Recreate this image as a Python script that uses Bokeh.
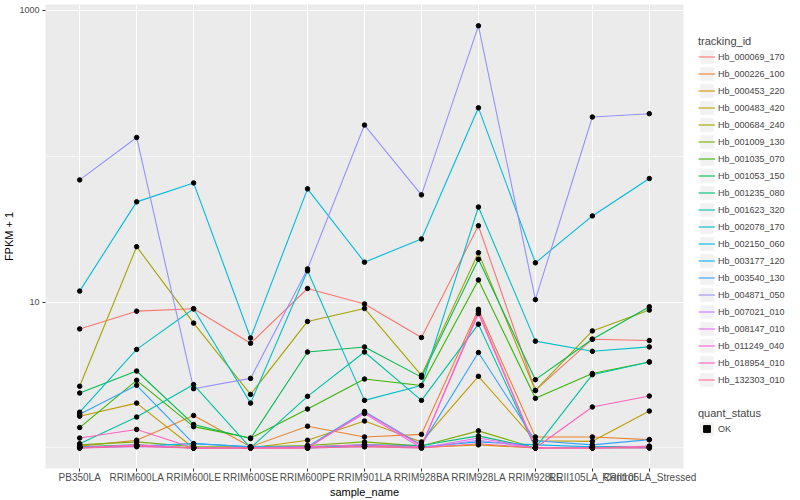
from bokeh.plotting import figure
from bokeh.layouts import row
from bokeh.models import FactorRange, FixedTicker, Legend, LegendItem, Range1d
from bokeh.embed import file_html
from bokeh.resources import INLINE

samples = ["PB350LA", "RRIM600LA", "RRIM600LE", "RRIM600SE", "RRIM600PE", "RRIM901LA",
           "RRIM928BA", "RRIM928LA", "RRIM928LE", "RRII105LA_Control", "RRII105LA_Stressed"]

tracking_ids = ["Hb_000069_170", "Hb_000226_100", "Hb_000453_220", "Hb_000483_420",
                "Hb_000684_240", "Hb_001009_130", "Hb_001035_070", "Hb_001053_150",
                "Hb_001235_080", "Hb_001623_320", "Hb_002078_170", "Hb_002150_060",
                "Hb_003177_120", "Hb_003540_130", "Hb_004871_050", "Hb_007021_010",
                "Hb_008147_010", "Hb_011249_040", "Hb_018954_010", "Hb_132303_010"]

colors = ["#F8766D", "#EA8331", "#D89000", "#C09B00", "#A3A500", "#7CAE00", "#39B600",
          "#00BB4E", "#00BF7D", "#00C1A3", "#00BFC4", "#00BAE0", "#00B0F6", "#35A2FF",
          "#9590FF", "#C77CFF", "#E76BF3", "#FA62DB", "#FF62BC", "#FF6C91"]

quant_status = ["OK"]

# FPKM values per gene, in sample order
hb_000069_170 = [5.55, 7.67, 8.0, 4.23, 11.4, 8.72, 4.72, 32.4, 1.48, 4.57, 4.45]
hb_000226_100 = [0.03, 0.13, 0.67, 0.02, 0.41, 0.19, 0.24, 7.93, 0.19, 0.19, 0.14]
hb_000453_220 = [0.02, 0.04, 0.0, 0.0, 0.02, 0.03, 0.01, 0.05, 0.0, 0.0, 0.0]
hb_000483_420 = [0.65, 1.03, 0.0, 0.0, 0.13, 0.53, 0.10, 2.10, 0.12, 0.11, 0.79]
hb_000684_240 = [1.65, 23.0, 6.18, 1.33, 6.37, 8.05, 2.15, 20.8, 1.48, 5.35, 7.82]
hb_001009_130 = [0.05, 0.10, 0.02, 0.02, 0.04, 0.10, 0.03, 0.31, 0.0, 0.02, 0.02]
hb_001035_070 = [0.38, 1.91, 0.40, 0.17, 0.85, 1.97, 1.68, 13.2, 1.19, 2.24, 2.89]
hb_001053_150 = [1.38, 2.37, 0.45, 0.16, 3.55, 3.93, 2.06, 18.7, 1.94, 4.57, 8.3]
hb_001235_080 = [0.02, 0.05, 0.0, 0.0, 0.02, 0.05, 0.04, 0.21, 0.0, 0.01, 0.01]
hb_001623_320 = [0.07, 0.63, 1.72, 0.0, 1.26, 3.55, 1.12, 6.06, 0.0, 2.18, 2.89]
hb_002078_170 = [0.76, 3.74, 8.0, 1.03, 15.4, 1.12, 1.68, 43.9, 4.4, 3.6, 3.93]
hb_002150_060 = [10.9, 47.7, 64.7, 4.68, 58.8, 17.8, 26.1, 214.0, 17.6, 38.0, 69.4]
hb_003177_120 = [0.01, 0.03, 0.07, 0.02, 0.0, 0.05, 0.02, 0.10, 0.05, 0.02, 0.02]
hb_003540_130 = [0.70, 1.69, 0.07, 0.02, 0.02, 0.78, 0.05, 3.51, 0.12, 0.05, 0.14]
hb_004871_050 = [67.9, 133.7, 1.55, 2.0, 15.9, 162.8, 53.4, 784.0, 9.4, 185.0, 195.0]
hb_007021_010 = [0.0, 0.02, 0.0, 0.0, 0.0, 0.02, 0.0, 0.13, 0.0, 0.0, 0.0]
hb_008147_010 = [0.01, 0.04, 0.0, 0.0, 0.01, 0.72, 0.0, 0.17, 0.0, 0.0, 0.02]
hb_011249_040 = [0.0, 0.05, 0.0, 0.0, 0.02, 0.05, 0.02, 7.67, 0.0, 0.0, 0.03]
hb_018954_010 = [0.17, 0.34, 0.0, 0.0, 0.0, 0.76, 0.03, 7.34, 0.0, 0.91, 1.27]
hb_132303_010 = [0.0, 0.03, 0.0, 0.0, 0.0, 0.02, 0.0, 0.07, 0.0, 0.0, 0.02]

series = [hb_000069_170, hb_000226_100, hb_000453_220, hb_000483_420, hb_000684_240,
          hb_001009_130, hb_001035_070, hb_001053_150, hb_001235_080, hb_001623_320,
          hb_002078_170, hb_002150_060, hb_003177_120, hb_003540_130, hb_004871_050,
          hb_007021_010, hb_008147_010, hb_011249_040, hb_018954_010, hb_132303_010]

y_ticks = [10, 1000]
y_minor = [1, 100]

FONT = "Liberation Sans"
FRAME_W = 638
FRAME_H = 464
NAN = float("nan")

# ---------------- main plot ----------------
p = figure(x_range=FactorRange(factors=samples, range_padding=0.1, range_padding_units="absolute"),
           y_range=Range1d(0.723, 1099), y_axis_type="log",
           frame_width=FRAME_W, frame_height=FRAME_H,
           min_border_top=4, min_border_left=37, min_border_right=15, min_border_bottom=0,
           output_backend="svg", toolbar_location=None)

p.background_fill_color = "#EBEBEB"
p.border_fill_color = "white"
p.outline_line_color = None

p.xgrid.grid_line_color = "white"
p.xgrid.grid_line_width = 1.1
p.yaxis.ticker = FixedTicker(ticks=y_ticks, minor_ticks=y_minor)
p.ygrid.grid_line_color = "white"
p.ygrid.grid_line_width = 1.1
p.ygrid.minor_grid_line_color = "white"
p.ygrid.minor_grid_line_width = 0.55
p.yaxis.major_label_overrides = {t: str(t) for t in y_ticks}

for ax in (p.xaxis[0], p.yaxis[0]):
    ax.axis_line_color = None
    ax.major_tick_line_color = "#333333"
    ax.major_tick_in = 0
    ax.major_tick_out = 3
    ax.minor_tick_line_color = None
    ax.major_label_text_font = FONT
    ax.major_label_text_color = "#4D4D4D"
    ax.axis_label_text_font = FONT
    ax.axis_label_text_font_size = "11px"
    ax.axis_label_text_font_style = "normal"
    ax.axis_label_text_color = "black"

p.xaxis.major_label_standoff = 0
p.xaxis.axis_label_standoff = 0
p.yaxis.major_label_standoff = 2
p.yaxis.axis_label_standoff = 1
p.xaxis.major_label_text_font_size = "10px"
p.yaxis.major_label_text_font_size = "9px"
p.xaxis.axis_label = "sample_name"
p.yaxis.axis_label = "FPKM + 1"

for col, vals in zip(colors, series):
    p.line(samples, [v + 1 for v in vals], line_color=col, line_width=1.1)

for vals in series:
    p.scatter(samples, [v + 1 for v in vals], size=4.5, color="black", marker="circle")

# ---------------- legend panel ----------------
LEG_W = 100
LEG_H = 490
lp = figure(x_range=Range1d(0, 1), y_range=Range1d(0, 1),
            frame_width=LEG_W, frame_height=LEG_H,
            min_border=0, output_backend="svg", toolbar_location=None)
lp.axis.visible = False
lp.grid.visible = False
lp.outline_line_color = None
lp.background_fill_color = "white"
lp.border_fill_color = "white"

# grey key background (legend-only renderer, draws nothing in the panel)
key_bg = lp.quad(left=[NAN], right=[NAN], top=[NAN], bottom=[NAN],
                 fill_color="#F2F2F2", line_color=None)

line_items = []
for tid, col in zip(tracking_ids, colors):
    r = lp.line(x=[NAN], y=[NAN], line_color=col, line_width=1.1)
    line_items.append(LegendItem(label=tid, renderers=[key_bg, r]))
ok_key = lp.scatter(x=[NAN], y=[NAN], marker="square", color="black")

common = dict(spacing=0, padding=0, margin=0, label_height=17,
              glyph_width=17, glyph_height=17, label_standoff=3,
              label_text_font=FONT, label_text_font_size="9px",
              title_text_font=FONT, title_text_font_size="11px", title_text_font_style="normal",
              title_standoff=1, border_line_color=None, background_fill_alpha=0)

legend1 = Legend(items=line_items, title="tracking_id", location=(0, LEG_H - 388), **common)
legend2 = Legend(items=[LegendItem(label=quant_status[0], renderers=[key_bg, ok_key])],
                 title="quant_status", location=(0, LEG_H - 437), **common)
lp.add_layout(legend1, "center")
lp.add_layout(legend2, "center")

layout = row(p, lp)
open("out.html", "w").write(file_html(layout, INLINE))
